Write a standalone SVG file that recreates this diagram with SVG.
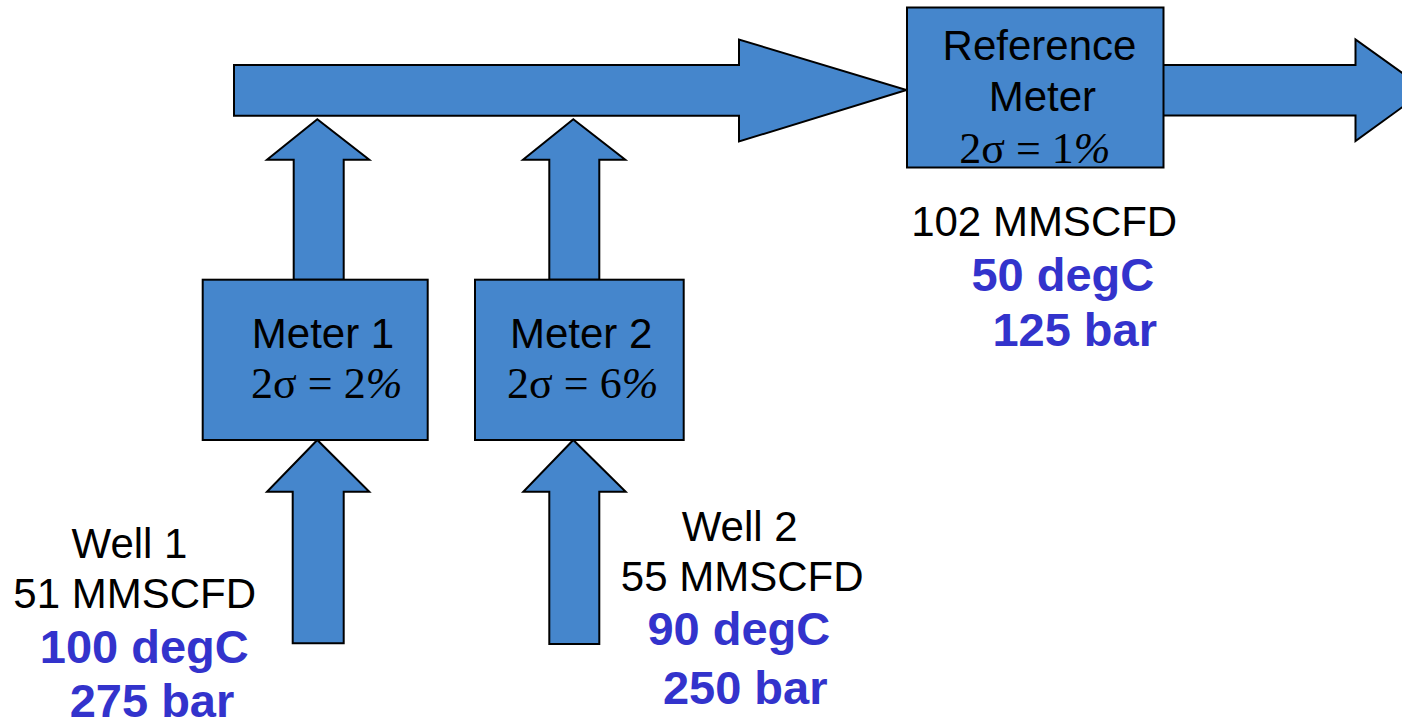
<svg xmlns="http://www.w3.org/2000/svg" width="1402" height="725" viewBox="0 0 1402 725">
<style>
.shape{fill:#4586CC;stroke:#000;stroke-width:2;stroke-linejoin:miter}
.lbl{font-family:"Liberation Sans",Arial,sans-serif;font-size:42px;fill:#000;text-anchor:middle}
.hot{font-family:"Liberation Sans",Arial,sans-serif;font-size:47px;font-weight:bold;fill:#3333CC;text-anchor:middle}
.math{font-family:"Liberation Serif","Times New Roman",serif;font-size:44px;fill:#000;text-anchor:middle}
</style>
<rect width="1402" height="725" fill="#fff"/>
<g id="connectors">
<path class="shape" d="M234,65 H739 V39.5 L906.5,90 L739,141.5 V115.7 H234 Z"/>
<path class="shape" d="M1163,65 H1355.5 V39.5 L1426,90 L1355.5,141 V115.5 H1163 Z"/>
<path class="shape" d="M293.7,279.7 V159.7 H267 L317.3,119.3 L369.3,159.7 H343.7 V279.7 Z"/>
<path class="shape" d="M549.3,279.7 V159.7 H523 L573.3,119.3 L625.3,159.7 H599.3 V279.7 Z"/>
<path class="shape" d="M292.7,643.3 V491.7 H267 L317.3,440 L369.3,491.7 H343.7 V643.3 Z"/>
<path class="shape" d="M549.3,644 V491.7 H523.3 L573.3,440 L625.7,491.7 H599.3 V644 Z"/>
</g>
<g id="ref-meter">
<rect class="shape" x="907" y="7.5" width="256.5" height="160"/>
<text class="lbl" x="1039.5" y="60">Reference</text>
<text class="lbl" x="1042.4" y="111">Meter</text>
<text class="math" x="1034.8" y="162.5">2σ = 1<tspan font-style="italic">%</tspan></text>
</g>
<g id="meter1">
<rect class="shape" x="202.7" y="279.7" width="225" height="160.3"/>
<text class="lbl" x="323" y="348.3">Meter 1</text>
<text class="math" x="326.7" y="398.3">2σ = 2<tspan font-style="italic">%</tspan></text>
</g>
<g id="meter2">
<rect class="shape" x="475" y="279.7" width="208.7" height="160.3"/>
<text class="lbl" x="581.2" y="348.3">Meter 2</text>
<text class="math" x="582.7" y="398.3">2σ = 6<tspan font-style="italic">%</tspan></text>
</g>
<g id="well1">
<text class="lbl" x="129.5" y="557.7">Well 1</text>
<text class="lbl" x="134.7" y="607.7">51 MMSCFD</text>
<text class="hot" x="144.3" y="663.3">100 degC</text>
<text class="hot" x="152" y="716.7">275 bar</text>
</g>
<g id="well2">
<text class="lbl" x="739.7" y="540.7">Well 2</text>
<text class="lbl" x="742.2" y="591">55 MMSCFD</text>
<text class="hot" x="738.8" y="645">90 degC</text>
<text class="hot" x="745.2" y="704">250 bar</text>
</g>
<g id="outlet">
<text class="lbl" x="1044.2" y="235.7">102 MMSCFD</text>
<text class="hot" x="1062.8" y="290.7">50 degC</text>
<text class="hot" x="1074.7" y="345.7">125 bar</text>
</g>
</svg>
